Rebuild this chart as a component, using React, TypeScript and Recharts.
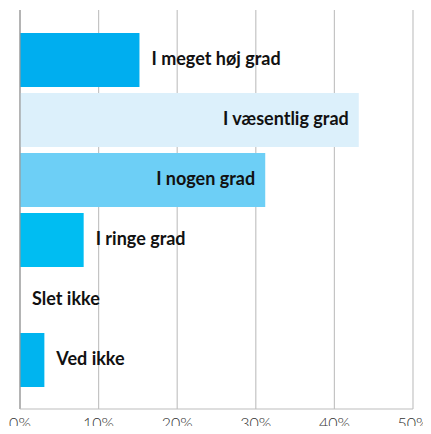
import { BarChart, Bar, XAxis, YAxis, CartesianGrid, Cell, LabelList, ReferenceLine } from "recharts";

const categories = [
  "I meget høj grad",
  "I væsentlig grad",
  "I nogen grad",
  "I ringe grad",
  "Slet ikke",
  "Ved ikke",
];
const shares = [15.2, 43.1, 31.2, 8.1, 0, 3.1];
const ticks = [0, 10, 20, 30, 40, 50];

const COLORS = ["#00aeef", "#dcf0fb", "#6dcff6", "#00bdf2", "#00b4ef", "#00b4ef"];

const data = categories.map((name, i) => ({ name, value: shares[i] }));

const renderLabel = (props: any) => {
  const { x, y, width, height, value } = props;
  const inside = width > 200;
  return (
    <text
      x={inside ? x + width - 10 : x + width + 12}
      y={y + height / 2 - 2}
      textAnchor={inside ? "end" : "start"}
      dominantBaseline="central"
      fontFamily="Lato, sans-serif"
      fontWeight={700}
      fontSize={18}
      fill="#111"
    >
      {value}
    </text>
  );
};

export default function App() {
  return (
    <div style={{ margin: -8 }}>
      <BarChart
        width={431}
        height={434}
        data={data}
        layout="vertical"
        margin={{ top: 10, right: 18, bottom: 0, left: 20 }}
      >
        <CartesianGrid horizontal={false} stroke="#c4c4c4" strokeWidth={1.2} />
        <XAxis
          type="number"
          domain={[0, 50]}
          ticks={ticks}
          tickFormatter={(v: number) => `${v}%`}
          axisLine={{ stroke: "#bdbdbd", strokeWidth: 1.2 }}
          tickLine={false}
          height={25}
          tick={{ fill: "#333", fontSize: 16, fontFamily: "Lato, sans-serif", fontWeight: 300 }}
          tickMargin={3}
          interval={0}
        />
        <YAxis type="category" dataKey="name" hide padding={{ top: 20, bottom: 19 }} />
        <ReferenceLine x={0} stroke="#999" strokeWidth={1.2} />
        <Bar dataKey="value" barSize={54} minPointSize={0.01} isAnimationActive={false}>
          {data.map((_d, i) => (
            <Cell key={`c-${i}`} fill={COLORS[i]} />
          ))}
          <LabelList dataKey="name" content={renderLabel} />
        </Bar>
      </BarChart>
    </div>
  );
}
